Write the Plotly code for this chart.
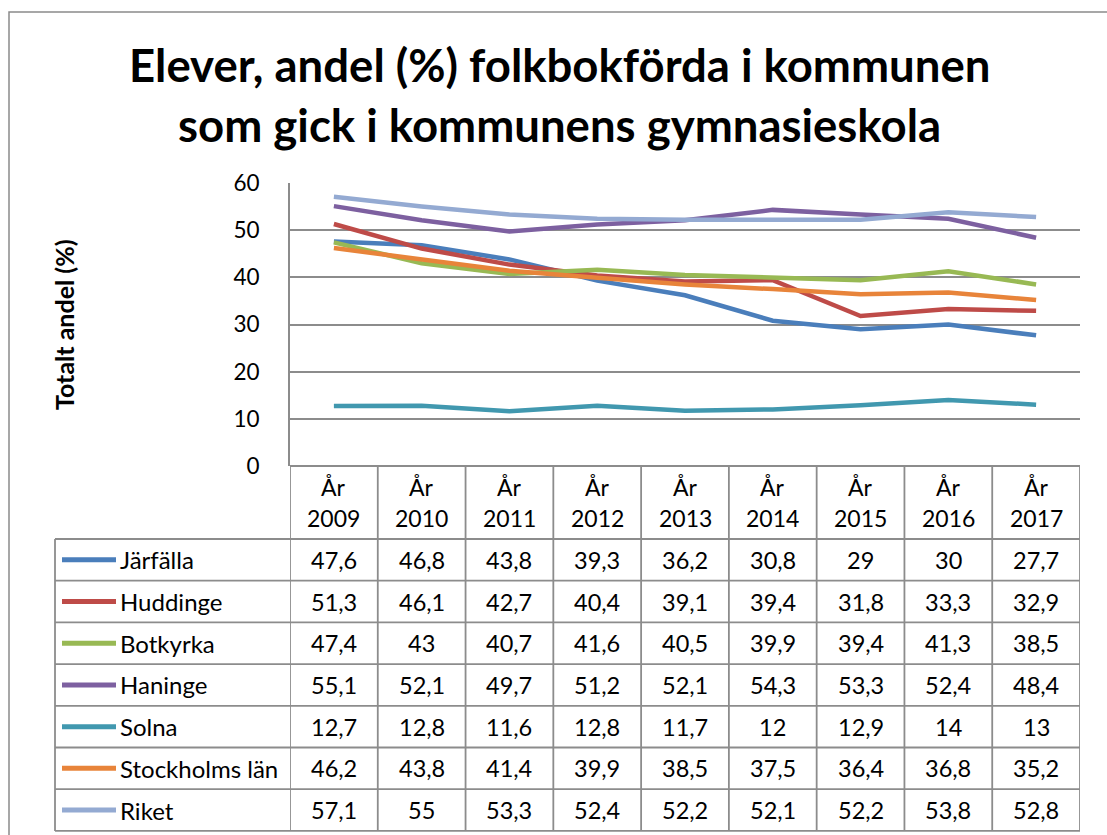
import plotly.graph_objects as go

years = ["2009", "2010", "2011", "2012", "2013", "2014", "2015", "2016", "2017"]
series_names = ["Järfälla", "Huddinge", "Botkyrka", "Haninge", "Solna", "Stockholms län", "Riket"]
jarfalla = [47.6, 46.8, 43.8, 39.3, 36.2, 30.8, 29, 30, 27.7]
huddinge = [51.3, 46.1, 42.7, 40.4, 39.1, 39.4, 31.8, 33.3, 32.9]
botkyrka = [47.4, 43, 40.7, 41.6, 40.5, 39.9, 39.4, 41.3, 38.5]
haninge = [55.1, 52.1, 49.7, 51.2, 52.1, 54.3, 53.3, 52.4, 48.4]
solna = [12.7, 12.8, 11.6, 12.8, 11.7, 12, 12.9, 14, 13]
stockholms_lan = [46.2, 43.8, 41.4, 39.9, 38.5, 37.5, 36.4, 36.8, 35.2]
riket = [57.1, 55, 53.3, 52.4, 52.2, 52.1, 52.2, 53.8, 52.8]
y_ticks = [0, 10, 20, 30, 40, 50, 60]

series_values = [jarfalla, huddinge, botkyrka, haninge, solna, stockholms_lan, riket]
colors = ["#4A7EBB", "#BE4B48", "#98B954", "#7D60A0", "#4198AF", "#E8843A", "#94AAD2"]

W, H = 1107, 835
FONT = "Lato"
GRID = "#8C8C8C"


def px(x):
    return x / W


def py(y):
    return 1 - y / H


# layout geometry (pixels)
PL, PR = 290, 1080
PT, PB = 183, 466
TL = 55
HDR_B = 539
ROW_H = 41.7
N_ROWS = len(series_names)
TB = HDR_B + ROW_H * N_ROWS

fig = go.Figure()

x_idx = list(range(len(years)))
for name, vals, col in zip(series_names, series_values, colors):
    fig.add_trace(go.Scatter(
        x=x_idx, y=vals, mode="lines", name=name,
        line=dict(color=col, width=4.5),
        showlegend=False, hoverinfo="x+y+name",
    ))

shapes = []
# outer chart frame
shapes.append(dict(type="rect", xref="paper", yref="paper",
                   x0=px(9), x1=px(1120), y0=py(850), y1=py(12),
                   line=dict(color="#8A8A8A", width=1.5), fillcolor="rgba(0,0,0,0)", layer="below"))

# table horizontal lines
shapes.append(dict(type="line", xref="paper", yref="paper",
                   x0=px(PL), x1=px(PR), y0=py(PB), y1=py(PB),
                   line=dict(color=GRID, width=1.8)))
for i in range(N_ROWS + 1):
    yy = HDR_B + i * ROW_H
    shapes.append(dict(type="line", xref="paper", yref="paper",
                       x0=px(TL), x1=px(PR), y0=py(yy), y1=py(yy),
                       line=dict(color=GRID, width=1.8)))
# table vertical lines
shapes.append(dict(type="line", xref="paper", yref="paper",
                   x0=px(TL), x1=px(TL), y0=py(HDR_B), y1=py(TB),
                   line=dict(color=GRID, width=1.8)))
for j in range(len(years) + 1):
    shapes.append(dict(type="line", xref="x", yref="paper",
                       x0=j - 0.5, x1=j - 0.5, y0=py(PB), y1=py(TB),
                       line=dict(color=GRID, width=1.8)))
# legend keys in table
for i, col in enumerate(colors):
    yc = HDR_B + (i + 0.5) * ROW_H
    shapes.append(dict(type="line", xref="paper", yref="paper",
                       x0=px(62), x1=px(116), y0=py(yc), y1=py(yc),
                       line=dict(color=col, width=5)))

annotations = []
# title
annotations.append(dict(text="<b>Elever, andel (%) folkbokförda i kommunen</b>",
                        xref="paper", yref="paper", x=px(559), y=py(64),
                        showarrow=False, font=dict(family=FONT, size=45.5, color="black"),
                        xanchor="center", yanchor="middle"))
annotations.append(dict(text="<b>som gick i kommunens gymnasieskola</b>",
                        xref="paper", yref="paper", x=px(559), y=py(124),
                        showarrow=False, font=dict(family=FONT, size=45.5, color="black"),
                        xanchor="center", yanchor="middle"))
# y axis title
annotations.append(dict(text="<b>Totalt andel (%)</b>", xref="paper", yref="paper",
                        x=px(64), y=py(325), textangle=-90, showarrow=False,
                        font=dict(family=FONT, size=25, color="black"),
                        xanchor="center", yanchor="middle"))
# header
for j, yr in enumerate(years):
    annotations.append(dict(text="År", xref="x", yref="paper", x=j, y=py(487),
                            showarrow=False, font=dict(family=FONT, size=23, color="black"),
                            xanchor="center", yanchor="middle"))
    annotations.append(dict(text=yr, xref="x", yref="paper", x=j, y=py(518),
                            showarrow=False, font=dict(family=FONT, size=23, color="black"),
                            xanchor="center", yanchor="middle"))
# rows
for i, (name, vals) in enumerate(zip(series_names, series_values)):
    yc = HDR_B + (i + 0.5) * ROW_H
    annotations.append(dict(text=name, xref="paper", yref="paper", x=px(118), y=py(yc),
                            showarrow=False, font=dict(family=FONT, size=24, color="black"),
                            xanchor="left", yanchor="middle"))
    for j, v in enumerate(vals):
        s = (f"{v:g}").replace(".", ",")
        annotations.append(dict(text=s, xref="x", yref="paper", x=j, y=py(yc),
                                showarrow=False, font=dict(family=FONT, size=23.5, color="black"),
                                xanchor="center", yanchor="middle"))

fig.update_layout(
    width=W, height=H,
    margin=dict(l=0, r=0, t=0, b=0, pad=0, autoexpand=False),
    paper_bgcolor="white", plot_bgcolor="white",
    shapes=shapes, annotations=annotations,
    xaxis=dict(domain=[px(PL), px(PR)], range=[-0.5, len(years) - 0.5],
               showgrid=False, showticklabels=False, zeroline=False, showline=False,
               fixedrange=True, automargin=False),
    yaxis=dict(domain=[py(PB), py(PT)], range=[0, 60], tickvals=y_ticks,
               showgrid=True, gridcolor=GRID, gridwidth=1.6, zeroline=False,
               showline=True, linecolor=GRID, linewidth=1.8,
               ticks="", ticklabelstandoff=24, automargin=False,
               tickfont=dict(family=FONT, size=22.5, color="black"), fixedrange=True),
)

fig.write_html(
    "out.html",
    config={"displayModeBar": False},
    post_script="document.body.style.margin='0';document.body.style.overflow='hidden';document.documentElement.style.overflow='hidden';",
)
